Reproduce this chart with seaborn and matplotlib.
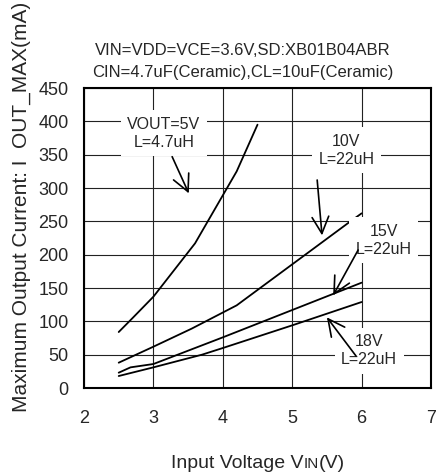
import numpy as np
import pandas as pd
import matplotlib
matplotlib.use("Agg")
import matplotlib.pyplot as plt
import seaborn as sns
from matplotlib.offsetbox import TextArea, HPacker, AnchoredOffsetbox

# values
vin_5v = [2.5, 2.7, 3.0, 3.6, 4.2, 4.5]
iout_5v = [84, 105, 137, 217, 325, 395]
vin_10v = [2.5, 3.0, 3.55, 4.2, 5.28, 5.8, 6.0]
iout_10v = [38, 62, 89, 124, 207, 247, 262]
vin_15v = [2.5, 2.67, 3.0, 4.0, 5.0, 6.0]
iout_15v = [23, 31, 36, 76, 117, 158]
vin_18v = [2.5, 3.0, 3.7, 4.0, 5.0, 6.0]
iout_18v = [18, 31, 50, 60, 94, 129]

x_ticks = [2, 3, 4, 5, 6, 7]
y_ticks = list(range(0, 451, 50))

labels = ["VOUT=5V\nL=4.7uH", "10V\nL=22uH", "15V\nL=22uH", "18V\nL=22uH"]
label_pos = [(3.15, 382), (5.78, 357), (6.32, 222), (6.11, 56)]
arrow_tail = [(3.27, 347), (5.36, 312), (5.95, 207), (5.92, 48)]
arrow_head = [(3.51, 292), (5.43, 229), (5.59, 139), (5.50, 106)]

df = pd.concat([
    pd.DataFrame({"vin": vin_5v, "iout": iout_5v, "curve": "5V"}),
    pd.DataFrame({"vin": vin_10v, "iout": iout_10v, "curve": "10V"}),
    pd.DataFrame({"vin": vin_15v, "iout": iout_15v, "curve": "15V"}),
    pd.DataFrame({"vin": vin_18v, "iout": iout_18v, "curve": "18V"}),
])

sns.set_style("white")
plt.rcParams['font.family'] = ['Liberation Sans', 'DejaVu Sans']

fig = plt.figure(figsize=(4.36, 4.74), dpi=100)
ax = fig.add_axes([0.1927, 0.1814, 0.7958, 0.6329])

for name, grp in df.groupby("curve", sort=False):
    sns.lineplot(data=grp, x="vin", y="iout", ax=ax, color="black",
                 linewidth=1.3, sort=False, estimator=None, zorder=2)

ax.set_xlim(2, 7)
ax.set_ylim(0, 450)
ax.set_xticks(x_ticks)
ax.set_yticks(y_ticks)
ax.tick_params(axis="both", length=0, labelsize=13)
ax.tick_params(axis="x", pad=16)
ax.tick_params(axis="y", pad=11)
ax.grid(True, color="#222222", linewidth=0.8, zorder=0.5)
ax.set_axisbelow(True)
for s in ax.spines.values():
    s.set_color("black")
    s.set_linewidth(1.5)
ax.set_xlabel("")
ax.set_ylabel("")

# curve labels with white boxes that break the grid
for txt, (x, y) in zip(labels, label_pos):
    ax.text(x, y, txt, ha="center", va="center", fontsize=11.5, zorder=3,
            linespacing=1.25,
            bbox=dict(boxstyle="square,pad=0.4", fc="white", ec="none"))

for tail, head in zip(arrow_tail, arrow_head):
    ax.annotate("", xy=head, xytext=tail, zorder=4,
                arrowprops=dict(arrowstyle="->,head_length=0.6,head_width=0.3",
                                color="black", lw=1.2, mutation_scale=20,
                                shrinkA=0, shrinkB=0))

# conditions text above the plot
fig.text(0.557, 0.893, "VIN=VDD=VCE=3.6V,SD:XB01B04ABR", ha="center",
         va="center", fontsize=12)
fig.text(0.557, 0.848, "CIN=4.7uF(Ceramic),CL=10uF(Ceramic)", ha="center",
         va="center", fontsize=12)

# y label (top runs off the figure like the original)
fig.text(0.048, 1 - 412 / 474, "Maximum Output Current: I  OUT_MAX(mA)",
         rotation=90, ha="center", va="bottom", fontsize=15)

# x label with small "IN"
parts = [TextArea("Input Voltage V", textprops=dict(size=14)),
         TextArea("IN", textprops=dict(size=11)),
         TextArea("(V)", textprops=dict(size=14))]
box = HPacker(children=parts, align="baseline", pad=0, sep=0)
anchored = AnchoredOffsetbox(loc="center", child=box, frameon=False,
                             bbox_to_anchor=(0.591, 1 - 463 / 474),
                             bbox_transform=fig.transFigure, borderpad=0)
fig.add_artist(anchored)

plt.savefig("out.png", dpi=100)
